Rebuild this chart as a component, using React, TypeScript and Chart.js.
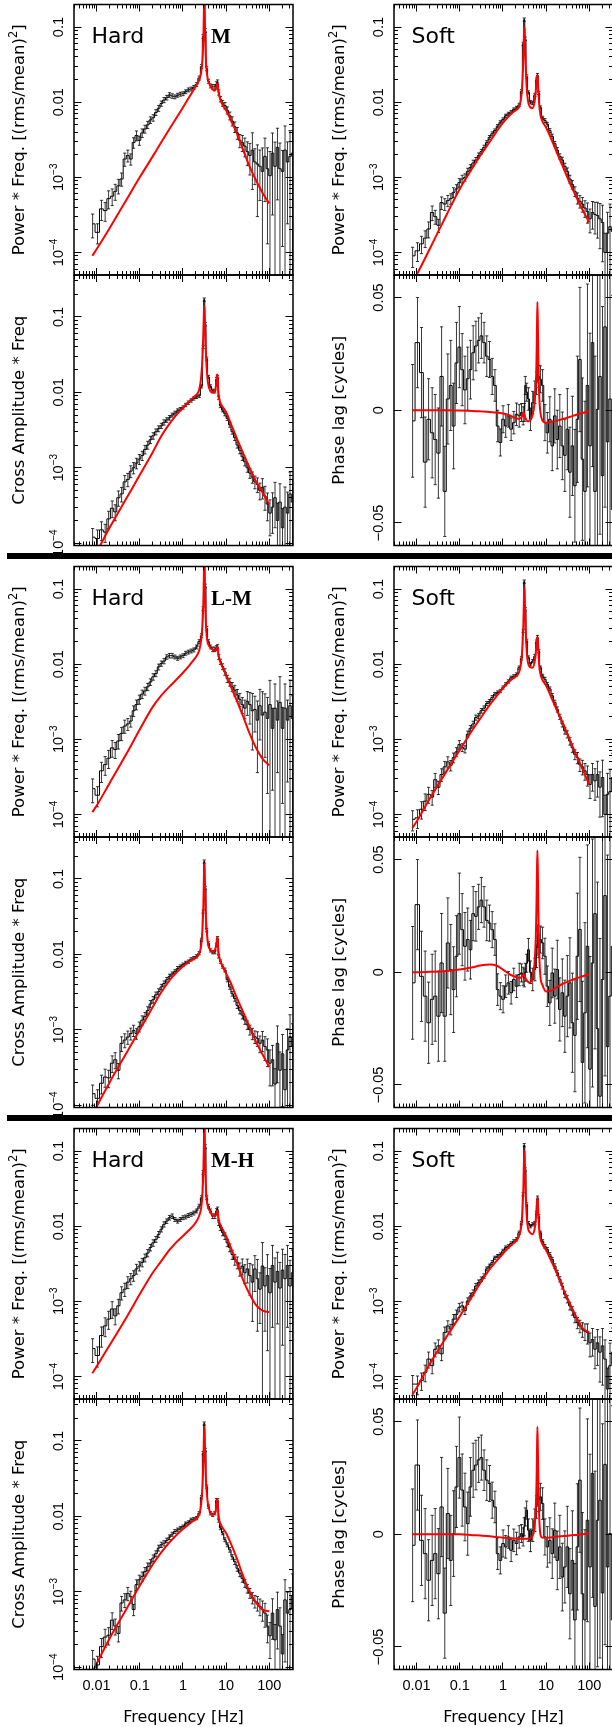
import React, { useEffect, useRef } from 'react';
import { Chart, registerables } from 'chart.js';

Chart.register(...registerables);

// ---------------- data ----------------
const binFreq = [
  0.0081, 0.0105, 0.013, 0.0158, 0.019, 0.023, 0.027, 0.032, 0.038, 0.045,
  0.053, 0.062, 0.072, 0.084, 0.098, 0.114, 0.132, 0.153, 0.177, 0.205,
  0.237, 0.274, 0.317, 0.366, 0.423, 0.489, 0.565, 0.653, 0.755, 0.872,
  1.01, 1.16, 1.34, 1.55, 1.79, 2.07, 2.39, 2.7, 2.95, 3.12,
  3.3, 3.55, 3.9, 4.35, 4.9, 5.5, 6.0, 6.35, 6.75, 7.4,
  8.3, 9.4, 10.7, 12.2, 13.9, 15.9, 18.2, 20.8, 23.8, 27.2,
  31.1, 35.6, 40.7, 46.5, 53.2, 60.8, 69.5, 79.5, 90.9, 104,
  119, 136, 155, 177, 203, 232, 265, 303, 346,
];

const hardG1 = [
  2.4e-4, 1.85e-4, 3.8e-4, 3.6e-4, 5.2e-4, 5.6e-4, 6.5e-4, 7.7e-4, 9.5e-4, 1.75e-3,
  1.95e-3, 1.75e-3, 2.9e-3, 3.6e-3, 3.1e-3, 3.9e-3, 4.4e-3, 5.0e-3, 5.8e-3, 6.2e-3,
  7.3e-3, 8.3e-3, 9.6e-3, 0.0107, 0.0115, 0.0125, 0.0121, 0.0118, 0.0124, 0.0128,
  0.013, 0.0138, 0.0146, 0.015, 0.0158, 0.0172, 0.021, 0.03, 0.075, 0.35,
  0.09, 0.028, 0.019, 0.0165, 0.016, 0.016, 0.0175, 0.0185, 0.0135, 0.011,
  0.0097, 0.009, 0.0078, 0.0066, 0.0056, 0.0047, 0.0039, 0.0031, 0.0029, 0.0026,
  0.0022, 0.00195, 0.0023, 0.0016, 0.0015, 0.0014, 0.0012, 0.0019, 0.0013, 0.00105,
  0.0021, 0.0014, 0.0025, 0.0013, 0.0012, 0.0023, 0.0016, 0.0019, 0.0021,
];
const hardG2 = [
  2.2e-4, 1.8e-4, 3.8e-4, 4.6e-4, 5.6e-4, 7.7e-4, 7.3e-4, 9.5e-4, 1.2e-3, 1.5e-3,
  1.6e-3, 1.75e-3, 2.4e-3, 2.9e-3, 3.4e-3, 4.0e-3, 4.4e-3, 5.0e-3, 5.8e-3, 6.8e-3,
  7.5e-3, 9.2e-3, 0.0102, 0.011, 0.0125, 0.013, 0.013, 0.0125, 0.012, 0.0125,
  0.013, 0.014, 0.0145, 0.015, 0.0155, 0.017, 0.02, 0.024, 0.055, 0.3,
  0.11, 0.03, 0.02, 0.017, 0.0158, 0.0158, 0.0165, 0.017, 0.0125, 0.0108,
  0.0093, 0.0079, 0.0064, 0.0058, 0.005, 0.0045, 0.0039, 0.0034, 0.0029, 0.0026,
  0.0032, 0.0029, 0.0024, 0.0025, 0.0018, 0.0028, 0.0021, 0.0023, 0.0019, 0.0029,
  0.0014, 0.0026, 0.0018, 0.0031, 0.0014, 0.0026, 0.0018, 0.0028, 0.0019,
];
const hardG3 = [
  2.35e-4, 1.9e-4, 3.5e-4, 4.7e-4, 5.8e-4, 7.9e-4, 6.4e-4, 8.7e-4, 1.3e-3, 1.45e-3,
  1.8e-3, 2.0e-3, 2.2e-3, 2.7e-3, 2.95e-3, 3.3e-3, 3.8e-3, 4.4e-3, 5.2e-3, 6.0e-3,
  6.7e-3, 7.8e-3, 9.1e-3, 0.0106, 0.0117, 0.013, 0.0136, 0.0123, 0.0117, 0.0123,
  0.013, 0.0133, 0.0139, 0.0144, 0.015, 0.016, 0.0185, 0.024, 0.052, 0.3,
  0.115, 0.024, 0.0185, 0.016, 0.0136, 0.0136, 0.016, 0.0168, 0.0111, 0.0095,
  0.0082, 0.0074, 0.006, 0.0052, 0.0042, 0.0036, 0.0033, 0.0027, 0.00295, 0.0024,
  0.0027, 0.0022, 0.0018, 0.0027, 0.002, 0.00145, 0.00295, 0.0016, 0.0022, 0.0013,
  0.003, 0.0018, 0.0025, 0.0015, 0.0026, 0.002, 0.003, 0.0016, 0.0024,
];

const softG1 = [
  9e-5, 1.05e-4, 1.3e-4, 1.55e-4, 2.05e-4, 3.4e-4, 3.0e-4, 2.3e-4, 4.6e-4, 4.4e-4,
  4.9e-4, 5.2e-4, 6.3e-4, 7.0e-4, 8.5e-4, 9.5e-4, 1.0e-3, 1.2e-3, 1.35e-3, 1.55e-3,
  1.7e-3, 1.95e-3, 2.2e-3, 2.5e-3, 2.9e-3, 3.4e-3, 3.8e-3, 4.2e-3, 4.8e-3, 5.4e-3,
  5.9e-3, 6.6e-3, 7.0e-3, 7.4e-3, 8.0e-3, 8.4e-3, 9.2e-3, 0.014, 0.06, 0.126,
  0.07, 0.022, 0.0135, 0.01, 0.0098, 0.0125, 0.02, 0.023, 0.0133, 0.0085,
  0.0062, 0.0057, 0.0051, 0.0042, 0.0035, 0.0028, 0.0023, 0.0019, 0.0017, 0.0014,
  0.0012, 9.5e-4, 8e-4, 6.5e-4, 5.3e-4, 4.8e-4, 4.4e-4, 3.9e-4, 3.5e-4, 2.8e-4,
  3.4e-4, 3.2e-4, 3.1e-4, 2.8e-4, 2.5e-4, 1.0e-4, 1.8e-4, 2.2e-4, 1.9e-4,
];
const softG2 = [
  8.6e-5, 9e-5, 1.17e-4, 1.5e-4, 1.85e-4, 1.7e-4, 2.9e-4, 2.3e-4, 3.4e-4, 4.3e-4,
  5.0e-4, 4.5e-4, 5.7e-4, 6.8e-4, 8.5e-4, 7.8e-4, 7.4e-4, 1.17e-3, 1.4e-3, 1.6e-3,
  1.95e-3, 2.05e-3, 2.4e-3, 2.6e-3, 3.0e-3, 3.2e-3, 3.6e-3, 4.0e-3, 4.2e-3, 4.4e-3,
  4.9e-3, 5.4e-3, 5.9e-3, 6.6e-3, 6.9e-3, 7.3e-3, 9.0e-3, 0.012, 0.0278, 0.126,
  0.054, 0.0205, 0.0123, 0.01, 0.011, 0.0128, 0.02, 0.023, 0.015, 0.009,
  0.007, 0.0063, 0.0054, 0.0047, 0.0038, 0.0031, 0.0025, 0.002, 0.0016, 0.0013,
  0.00117, 9.5e-4, 7.7e-4, 6.3e-4, 5.7e-4, 4.6e-4, 4.3e-4, 3.8e-4, 3.4e-4, 2.5e-4,
  3.4e-4, 2.8e-4, 3.4e-4, 2.3e-4, 3.1e-4, 1.0e-4, 1.85e-4, 2.0e-4, 3.1e-4,
];
const softG3 = [
  7.9e-5, 7.9e-5, 8.8e-5, 1.13e-4, 1.7e-4, 1.39e-4, 2.3e-4, 2.55e-4, 2.0e-4, 3.85e-4,
  4.7e-4, 4.25e-4, 5.8e-4, 6.7e-4, 8.3e-4, 8.7e-4, 7.5e-4, 1.01e-3, 1.18e-3, 1.3e-3,
  1.6e-3, 1.78e-3, 1.97e-3, 2.17e-3, 2.7e-3, 2.95e-3, 3.3e-3, 3.8e-3, 4.0e-3, 4.2e-3,
  4.7e-3, 5.2e-3, 5.4e-3, 5.9e-3, 6.3e-3, 6.7e-3, 8.2e-3, 0.011, 0.0266, 0.12,
  0.057, 0.0195, 0.011, 0.01, 0.0106, 0.011, 0.015, 0.024, 0.0136, 0.0082,
  0.0063, 0.0054, 0.0049, 0.0042, 0.0036, 0.00295, 0.0024, 0.00197, 0.0016, 0.00124,
  0.00107, 8.7e-4, 7.5e-4, 6.1e-4, 5.2e-4, 4.7e-4, 4.25e-4, 4.0e-4, 3.85e-4, 2.8e-4,
  3.1e-4, 2.3e-4, 2.8e-4, 2.1e-4, 2.55e-4, 1.7e-4, 6.8e-5, 1.39e-4, 2.1e-4,
];

const crossG1 = [
  1.2e-4, 1.15e-4, 1.5e-4, 1.4e-4, 2.1e-4, 2.9e-4, 2.6e-4, 4.0e-4, 4.5e-4, 6.5e-4,
  7.0e-4, 9e-4, 1.0e-3, 1.15e-3, 1.3e-3, 1.45e-3, 1.75e-3, 2.0e-3, 2.35e-3, 2.65e-3,
  3.0e-3, 3.3e-3, 3.6e-3, 4.0e-3, 4.3e-3, 4.6e-3, 5.0e-3, 5.3e-3, 5.7e-3, 6.0e-3,
  6.3e-3, 6.8e-3, 7.3e-3, 7.8e-3, 8.3e-3, 8.7e-3, 9.0e-3, 0.012, 0.04, 0.17,
  0.08, 0.028, 0.016, 0.012, 0.0105, 0.0103, 0.015, 0.016, 0.0085, 0.0066,
  0.0058, 0.0052, 0.0045, 0.0037, 0.003, 0.0025, 0.002, 0.0017, 0.0014, 0.0012,
  0.001, 8.5e-4, 7.5e-4, 6.5e-4, 6.0e-4, 5.0e-4, 5.5e-4, 4.2e-4, 3.3e-4, 2.5e-4,
  3.0e-4, 4.0e-4, 2.0e-4, 3.5e-4, 1.6e-4, 3.0e-4, 2.5e-4, 4.5e-4, 3.5e-4,
];
const crossG2 = [
  1.42e-4, 1.23e-4, 1.95e-4, 2.36e-4, 2.3e-4, 3.6e-4, 4.0e-4, 2.9e-4, 6.6e-4, 7.3e-4,
  8.0e-4, 8.9e-4, 9.8e-4, 8.9e-4, 1.1e-3, 1.34e-3, 1.5e-3, 1.8e-3, 2.2e-3, 2.5e-3,
  2.9e-3, 3.2e-3, 3.7e-3, 4.1e-3, 4.6e-3, 5.1e-3, 5.5e-3, 5.9e-3, 6.5e-3, 6.9e-3,
  7.3e-3, 7.7e-3, 8.0e-3, 8.6e-3, 8.9e-3, 9.4e-3, 0.0104, 0.0156, 0.037, 0.17,
  0.076, 0.021, 0.014, 0.0113, 0.0107, 0.0107, 0.0134, 0.0164, 0.0094, 0.008,
  0.0069, 0.0062, 0.0046, 0.0037, 0.003, 0.0026, 0.0021, 0.0018, 0.00156, 0.00134,
  0.00116, 0.001, 8.9e-4, 8.1e-4, 7.7e-4, 6.6e-4, 7.3e-4, 6.0e-4, 5.4e-4, 3.6e-4,
  4.0e-4, 1.9e-4, 6.6e-4, 2.9e-4, 4.8e-4, 1.6e-4, 5.4e-4, 8.1e-4, 6.0e-4,
];
const crossG3 = [
  1.28e-4, 1.07e-4, 1.87e-4, 2.5e-4, 2.65e-4, 4.2e-4, 3.5e-4, 2.8e-4, 7.1e-4, 7.8e-4,
  9.5e-4, 8.6e-4, 5.8e-4, 1.24e-3, 1.44e-3, 1.6e-3, 1.85e-3, 2.15e-3, 2.4e-3, 2.8e-3,
  3.2e-3, 3.8e-3, 4.2e-3, 4.4e-3, 4.8e-3, 5.3e-3, 5.8e-3, 6.3e-3, 6.6e-3, 7.0e-3,
  7.3e-3, 8.0e-3, 8.3e-3, 9.0e-3, 9.2e-3, 9.5e-3, 0.011, 0.018, 0.069, 0.17,
  0.076, 0.0248, 0.0135, 0.011, 0.0105, 0.011, 0.0164, 0.0164, 0.0088, 0.007,
  0.006, 0.0049, 0.0042, 0.0036, 0.0029, 0.0025, 0.00205, 0.00176, 0.0015, 0.0013,
  0.0011, 9.6e-4, 8.3e-4, 7.5e-4, 7.1e-4, 6.4e-4, 5.8e-4, 5.2e-4, 3.5e-4, 2.6e-4,
  5.2e-4, 2.3e-4, 5.8e-4, 3.5e-4, 1.5e-4, 7.8e-4, 5.2e-4, 5.8e-4, 8.6e-4,
];

const lagG1 = [
  -0.0047, 0.03, 0.0167, -0.023, -0.004, -0.01, -0.013, -0.019, 0.015, -0.036,
  0.005, 0.011, -0.007, 0.021, 0.028, 0.018, 0.009, 0.014, 0.018, 0.0255,
  0.0285, 0.031, 0.033, 0.03, 0.024, 0.0225, 0.015, 0.011, -0.007, -0.0143,
  -0.004, -0.007, -0.0025, -0.0084, -0.0055, -0.0018, -0.0025, -0.001, -0.0025, -0.001,
  0.011, 0.008, 0.005, -0.004, 0.0034, 0.008, 0.012, 0.018, 0.015, 0.0137,
  0.011, -0.0055, -0.01, -0.004, -0.0158, -0.0025, -0.013, -0.007, -0.0158, -0.02,
  -0.0084, -0.0275, -0.0158, -0.0335, -0.004, 0.0225, -0.0217, -0.036, 0.011, -0.0158,
  0.03, -0.036, 0.0004, 0.015, -0.029, 0.037, -0.014, 0.005, -0.044,
];
const lagG2 = [
  -0.0047, 0.03, -0.0018, -0.0106, -0.0224, -0.012, -0.0106, -0.0195, 0.0041, -0.0195,
  0.013, 0.0012, -0.0077, 0.0071, 0.026, 0.0189, 0.0115, 0.0145, 0.01, 0.026,
  0.0248, 0.029, 0.032, 0.029, 0.023, 0.0218, 0.0189, 0.0145, -0.0077, -0.0106,
  -0.012, -0.0062, -0.0047, -0.0091, -0.0032, -0.0062, -0.001, -0.0003, -0.0018, -0.0025,
  0.0, 0.004, 0.01, 0.0, -0.0032, 0.0012, 0.0071, 0.016, 0.0115, 0.0145,
  0.013, 0.0071, -0.0062, -0.0136, -0.0003, -0.0106, 0.0012, -0.0165, -0.0091, -0.0195,
  -0.0106, -0.0047, -0.0224, -0.028, 0.0071, 0.019, -0.04, -0.018, 0.0115, -0.043,
  0.0041, 0.026, -0.025, -0.055, -0.0032, 0.034, -0.033, -0.0106, 0.0115,
];
const lagG3 = [
  -0.0049, 0.0307, -0.0027, -0.0086, -0.0204, -0.0116, -0.0086, -0.0175, 0.0121, -0.035,
  0.0092, -0.0116, 0.0003, 0.021, 0.034, 0.0196, 0.0121, 0.0047, 0.021, 0.0284,
  0.0307, 0.033, 0.034, 0.0284, 0.024, 0.0225, 0.0151, 0.0121, -0.0086, -0.0116,
  -0.0041, -0.0056, -0.0012, -0.0071, -0.0027, -0.0041, -0.0012, 0.0003, -0.0012, 0.0033,
  0.0077, 0.0107, 0.0018, -0.0027, 0.0018, 0.0062, 0.0121, 0.018, 0.0151, 0.0166,
  0.0136, -0.0012, -0.0056, -0.0027, -0.0086, 0.0018, -0.0116, -0.0056, -0.019, -0.0145,
  -0.0056, -0.0264, -0.0116, -0.038, -0.0056, 0.024, -0.0264, -0.038, 0.0062, -0.0145,
  0.027, -0.032, 0.0062, 0.0151, -0.026, 0.031, -0.0145, 0.0003, -0.038,
];

// relative (log panels) and absolute (phase lag) 1-sigma errors
const hardErr = [
  0.35, 0.3, 0.3, 0.28, 0.27, 0.25, 0.24, 0.22, 0.2, 0.2,
  0.18, 0.17, 0.16, 0.15, 0.14, 0.13, 0.12, 0.11, 0.1, 0.1,
  0.09, 0.09, 0.08, 0.08, 0.07, 0.07, 0.07, 0.06, 0.06, 0.06,
  0.06, 0.06, 0.06, 0.06, 0.06, 0.06, 0.06, 0.06, 0.06, 0.06,
  0.06, 0.06, 0.06, 0.06, 0.07, 0.07, 0.07, 0.07, 0.08, 0.08,
  0.09, 0.1, 0.11, 0.12, 0.14, 0.16, 0.18, 0.2, 0.24, 0.28,
  0.35, 0.45, 0.7, 0.5, 0.8, 0.65, 1.05, 0.75, 0.9, 1.1,
  0.85, 1.1, 0.8, 1.2, 0.9, 1.1, 0.85, 1.2, 1.0,
];
const softErr = [
  0.3, 0.28, 0.26, 0.25, 0.24, 0.22, 0.21, 0.2, 0.19, 0.18,
  0.17, 0.16, 0.15, 0.14, 0.13, 0.12, 0.11, 0.1, 0.09, 0.09,
  0.08, 0.08, 0.07, 0.07, 0.06, 0.06, 0.06, 0.05, 0.05, 0.05,
  0.05, 0.05, 0.05, 0.05, 0.05, 0.05, 0.05, 0.05, 0.05, 0.05,
  0.05, 0.05, 0.05, 0.05, 0.05, 0.05, 0.05, 0.05, 0.05, 0.05,
  0.05, 0.06, 0.06, 0.06, 0.07, 0.07, 0.08, 0.08, 0.09, 0.1,
  0.11, 0.12, 0.13, 0.15, 0.17, 0.19, 0.22, 0.25, 0.3, 0.35,
  0.4, 0.45, 0.5, 0.6, 0.7, 0.8, 0.9, 1.0, 1.1,
];
const crossErr = [
  0.3, 0.3, 0.28, 0.27, 0.26, 0.25, 0.24, 0.23, 0.22, 0.21,
  0.2, 0.18, 0.17, 0.16, 0.15, 0.14, 0.13, 0.12, 0.11, 0.1,
  0.09, 0.09, 0.08, 0.08, 0.07, 0.07, 0.06, 0.06, 0.06, 0.05,
  0.05, 0.05, 0.05, 0.05, 0.05, 0.05, 0.05, 0.05, 0.05, 0.05,
  0.05, 0.05, 0.05, 0.05, 0.05, 0.05, 0.05, 0.05, 0.05, 0.05,
  0.05, 0.06, 0.06, 0.07, 0.07, 0.08, 0.09, 0.1, 0.11, 0.12,
  0.13, 0.15, 0.17, 0.19, 0.22, 0.25, 0.3, 0.35, 0.4, 0.5,
  0.55, 0.6, 0.7, 0.75, 0.8, 0.85, 0.9, 0.95, 1.0,
];
const lagErr = [
  0.025, 0.02, 0.02, 0.02, 0.018, 0.02, 0.02, 0.02, 0.022, 0.02,
  0.02, 0.02, 0.019, 0.018, 0.018, 0.016, 0.015, 0.014, 0.013, 0.012,
  0.011, 0.01, 0.01, 0.009, 0.009, 0.008, 0.008, 0.007, 0.007, 0.006,
  0.006, 0.005, 0.005, 0.005, 0.005, 0.005, 0.005, 0.004, 0.004, 0.004,
  0.004, 0.004, 0.005, 0.005, 0.005, 0.005, 0.005, 0.005, 0.005, 0.006,
  0.007, 0.008, 0.009, 0.01, 0.011, 0.012, 0.013, 0.014, 0.015, 0.016,
  0.018, 0.02, 0.022, 0.025, 0.028, 0.032, 0.036, 0.04, 0.045, 0.05,
  0.055, 0.06, 0.065, 0.07, 0.075, 0.08, 0.085, 0.09, 0.095,
];

// model curves (red)
const modelFreq = [
  0.008, 0.01, 0.02, 0.05, 0.1, 0.2, 0.3, 0.5, 0.7, 1,
  1.4, 1.8, 2.1, 2.4, 2.65, 2.85, 2.98, 3.06, 3.12, 3.18,
  3.26, 3.38, 3.55, 3.8, 4.2, 4.8, 5.4, 5.8, 6.0, 6.15,
  6.3, 6.45, 6.65, 6.95, 7.4, 8.2, 10, 13, 18, 25,
  35, 50, 70, 100,
];
const hardModelG1 = [
  9e-5, 1.1e-4, 2.1e-4, 5.1e-4, 1.0e-3, 1.9e-3, 2.8e-3, 4.5e-3, 6.1e-3, 8.5e-3,
  0.0117, 0.0148, 0.017, 0.02, 0.025, 0.038, 0.07, 0.15, 0.3, 0.2,
  0.09, 0.042, 0.026, 0.02, 0.0172, 0.015, 0.0142, 0.015, 0.0162, 0.0175,
  0.0178, 0.0165, 0.014, 0.0122, 0.0108, 0.0093, 0.0078, 0.0057, 0.0038, 0.0023,
  0.0014, 9e-4, 6.2e-4, 4.5e-4,
];
const hardModelG2 = [
  1.07e-4, 1.3e-4, 2.6e-4, 6.5e-4, 1.35e-3, 2.7e-3, 3.7e-3, 5.1e-3, 6.2e-3, 7.7e-3,
  9.6e-3, 0.0115, 0.013, 0.0155, 0.021, 0.035, 0.07, 0.15, 0.3, 0.2,
  0.09, 0.04, 0.024, 0.019, 0.017, 0.0158, 0.0152, 0.0155, 0.0162, 0.017,
  0.0172, 0.016, 0.0138, 0.012, 0.0106, 0.0092, 0.0072, 0.005, 0.0032, 0.002,
  1.2e-3, 7.6e-4, 5.5e-4, 4.5e-4,
];
const hardModelG3 = [
  1.1e-4, 1.35e-4, 2.6e-4, 6.2e-4, 1.24e-3, 2.4e-3, 3.3e-3, 4.9e-3, 6.1e-3, 7.4e-3,
  8.9e-3, 0.0104, 0.0118, 0.014, 0.0175, 0.028, 0.055, 0.12, 0.3, 0.2,
  0.085, 0.038, 0.023, 0.018, 0.016, 0.014, 0.0136, 0.014, 0.0148, 0.0157,
  0.016, 0.015, 0.013, 0.0115, 0.0104, 0.0092, 0.0074, 0.0051, 0.0032, 0.0019,
  1.25e-3, 8.8e-4, 7.5e-4, 7.2e-4,
];
const softModelG1 = [
  4e-5, 5e-5, 1.1e-4, 3.2e-4, 7.0e-4, 1.35e-3, 1.95e-3, 3.0e-3, 4.0e-3, 5.3e-3,
  6.6e-3, 7.5e-3, 8.0e-3, 8.8e-3, 0.0115, 0.02, 0.04, 0.075, 0.1, 0.095,
  0.06, 0.03, 0.016, 0.0105, 0.0087, 0.0083, 0.01, 0.0145, 0.019, 0.0225,
  0.023, 0.019, 0.0135, 0.0092, 0.0068, 0.0056, 0.0046, 0.0033, 0.0021, 0.00135,
  8.5e-4, 5.5e-4, 3.7e-4, 2.5e-4,
];
const softModelG2 = [
  6.6e-5, 8e-5, 1.6e-4, 3.8e-4, 7.2e-4, 1.35e-3, 1.9e-3, 2.9e-3, 3.7e-3, 4.8e-3,
  5.9e-3, 6.6e-3, 7.0e-3, 8.0e-3, 0.0105, 0.018, 0.035, 0.07, 0.105, 0.09,
  0.055, 0.028, 0.015, 0.0105, 0.0092, 0.009, 0.0105, 0.0145, 0.018, 0.022,
  0.023, 0.02, 0.015, 0.0095, 0.0074, 0.0062, 0.0052, 0.0037, 0.0024, 0.0016,
  1e-3, 6.2e-4, 4e-4, 2.5e-4,
];
const softModelG3 = [
  5.7e-5, 7e-5, 1.45e-4, 3.4e-4, 6.3e-4, 1.2e-3, 1.75e-3, 2.7e-3, 3.4e-3, 4.3e-3,
  5.3e-3, 6.0e-3, 6.5e-3, 7.6e-3, 9.8e-3, 0.017, 0.033, 0.068, 0.1, 0.092,
  0.055, 0.027, 0.014, 0.0095, 0.0083, 0.0078, 0.009, 0.0125, 0.017, 0.0215,
  0.0235, 0.02, 0.014, 0.0088, 0.0068, 0.0058, 0.0048, 0.0035, 0.0023, 0.00145,
  9.5e-4, 6.2e-4, 4.4e-4, 3.85e-4,
];
const crossModelG1 = [
  5.8e-5, 7.5e-5, 1.6e-4, 4.0e-4, 8.0e-4, 1.6e-3, 2.5e-3, 3.9e-3, 5.0e-3, 6.2e-3,
  7.6e-3, 8.7e-3, 9.4e-3, 0.011, 0.016, 0.03, 0.065, 0.11, 0.14, 0.12,
  0.075, 0.038, 0.021, 0.0135, 0.0108, 0.0099, 0.0102, 0.012, 0.0145, 0.0172,
  0.0165, 0.013, 0.01, 0.0082, 0.0072, 0.0065, 0.0055, 0.0038, 0.0024, 0.00155,
  1e-3, 6.5e-4, 4.7e-4, 3.3e-4,
];
const crossModelG2 = [
  7.5e-5, 9.5e-5, 2.0e-4, 5.0e-4, 1.0e-3, 2.0e-3, 3.0e-3, 4.6e-3, 5.7e-3, 6.9e-3,
  8.0e-3, 8.7e-3, 9.2e-3, 0.0104, 0.013, 0.022, 0.045, 0.1, 0.16, 0.13,
  0.08, 0.037, 0.021, 0.014, 0.0117, 0.0109, 0.0112, 0.0125, 0.014, 0.0162,
  0.017, 0.0145, 0.0112, 0.0092, 0.0082, 0.007, 0.0056, 0.0041, 0.0026, 0.0017,
  1.1e-3, 6.8e-4, 4.7e-4, 3.2e-4,
];
const crossModelG3 = [
  8.5e-5, 1.1e-4, 2.4e-4, 6.0e-4, 1.2e-3, 2.3e-3, 3.2e-3, 4.6e-3, 5.6e-3, 6.8e-3,
  7.9e-3, 8.8e-3, 9.3e-3, 0.0108, 0.0145, 0.026, 0.055, 0.11, 0.155, 0.13,
  0.075, 0.036, 0.021, 0.0148, 0.0116, 0.0106, 0.0108, 0.0122, 0.0142, 0.0168,
  0.017, 0.0145, 0.011, 0.0089, 0.008, 0.0071, 0.006, 0.0043, 0.0027, 0.0016,
  1e-3, 7.1e-4, 5.8e-4, 5.5e-4,
];
const lagModelG1 = [
  0, 0, 0, 0, -0.0001, -0.0003, -0.0005, -0.0008, -0.001, -0.0014,
  -0.0022, -0.0032, -0.0037, -0.0038, -0.0033, -0.0022, -0.0012, -0.001, -0.0012, -0.0018,
  -0.0028, -0.0038, -0.0046, -0.0049, -0.0045, -0.0025, 0.003, 0.012, 0.022, 0.036,
  0.048, 0.038, 0.02, 0.006, -0.001, -0.0045, -0.0055, -0.0052, -0.0046, -0.0038,
  -0.003, -0.002, -0.0012, -0.0004,
];
const lagModelG2 = [
  0, 0, 0.0002, 0.0006, 0.0012, 0.0022, 0.003, 0.0034, 0.003, 0.0012,
  -0.0008, -0.0018, -0.0023, -0.0025, -0.0022, -0.0015, -0.001, -0.0009, -0.001, -0.0014,
  -0.002, -0.0028, -0.0035, -0.0042, -0.0047, -0.0025, 0.004, 0.016, 0.03, 0.045,
  0.054, 0.045, 0.025, 0.008, -0.002, -0.0055, -0.0085, -0.0082, -0.0065, -0.005,
  -0.0038, -0.0028, -0.0018, -0.001,
];
const lagModelG3 = [
  0, 0, 0, 0, 0, -0.0004, -0.0006, -0.0009, -0.0012, -0.0015,
  -0.0017, -0.0019, -0.002, -0.002, -0.002, -0.002, -0.002, -0.002, -0.002, -0.002,
  -0.002, -0.002, -0.002, -0.002, -0.0018, -0.0008, 0.003, 0.013, 0.022, 0.036,
  0.0477, 0.038, 0.022, 0.007, 0, -0.0015, -0.0016, -0.0014, -0.001, -0.0008,
  -0.0006, -0.0003, 0, 0.0003,
];

// axis ticks / labels
const xTickValues = [0.01, 0.1, 1, 10, 100];
const xTickLabels = ['0.01', '0.1', '1', '10', '100'];
const logTickValues = [0.1, 0.01, 0.001, 0.0001];
const logTickLabels = ['0.1', '0.01', '10^\u22123', '10^\u22124'];
const lagTickValues = [0.05, 0, -0.05];
const lagTickLabels = ['0.05', '0', '\u22120.05'];
const groupTags = ['M', 'L-M', 'M-H'];
const xAxisTitle = 'Frequency [Hz]';

// ---------------- layout / style ----------------
const X_MIN = 0.003;
const X_MAX = 355;
const FRAME_W = 219;
const ROW_H = 270.5;
const GROUP_TOPS = [4.5, 566.5, 1128.5];
const COL_FRAME_X = [74, 394];
const COL_CANVAS_X = [0, 306];
const COL_CANVAS_W = [306, 320];
const NUM_FONT = '"Liberation Sans", Arial, sans-serif';
const TXT_FONT = '"DejaVu Sans", sans-serif';

type Part = { t: string; sup?: boolean };
const PSD_TITLE: Part[] = [{ t: 'Power * Freq. [(rms/mean)' }, { t: '2', sup: true }, { t: ']' }];

const KINDS: Record<string, any> = {
  hard: { log: true, yMin: 5e-5, yMax: 0.2, title: PSD_TITLE, label: 'Hard' },
  soft: { log: true, yMin: 5e-5, yMax: 0.2, title: PSD_TITLE, label: 'Soft' },
  cross: { log: true, yMin: 9.3e-5, yMax: 0.36, title: [{ t: 'Cross Amplitude * Freq' }] },
  lag: { log: false, yMin: -0.06, yMax: 0.06, title: [{ t: 'Phase lag [cycles]' }] },
};

const groupData = [
  { hard: [hardG1, hardModelG1], soft: [softG1, softModelG1], cross: [crossG1, crossModelG1], lag: [lagG1, lagModelG1] },
  { hard: [hardG2, hardModelG2], soft: [softG2, softModelG2], cross: [crossG2, crossModelG2], lag: [lagG2, lagModelG2] },
  { hard: [hardG3, hardModelG3], soft: [softG3, softModelG3], cross: [crossG3, crossModelG3], lag: [lagG3, lagModelG3] },
];
const errByKind: Record<string, number[]> = { hard: hardErr, soft: softErr, cross: crossErr, lag: lagErr };

function parseLabel(s: string): Part[] {
  const i = s.indexOf('^');
  if (i < 0) return [{ t: s }];
  return [{ t: s.slice(0, i) }, { t: s.slice(i + 1), sup: true }];
}

function drawParts(ctx: CanvasRenderingContext2D, parts: Part[], x: number, y: number, rotate: boolean,
  size: number, supSize: number, family: string) {
  ctx.save();
  ctx.translate(x, y);
  if (rotate) ctx.rotate(-Math.PI / 2);
  ctx.textAlign = 'left';
  ctx.textBaseline = 'alphabetic';
  const widths = parts.map((p) => {
    ctx.font = `${p.sup ? supSize : size}px ${family}`;
    return ctx.measureText(p.t).width;
  });
  const total = widths.reduce((a, b) => a + b, 0);
  let cx = -total / 2;
  parts.forEach((p, i) => {
    ctx.font = `${p.sup ? supSize : size}px ${family}`;
    ctx.fillText(p.t, cx, p.sup ? -size * 0.42 : 0);
    cx += widths[i];
  });
  ctx.restore();
}

const snap = (v: number) => Math.round(v - 0.5) + 0.5;

function makePlugin(spec: any) {
  return {
    id: 'pgFrame',
    afterDraw(chart: any) {
      const { ctx, chartArea: a } = chart;
      const xs = chart.scales.x;
      const ys = chart.scales.y;
      const kind = KINDS[spec.kind];
      ctx.save();
      ctx.strokeStyle = '#000';
      ctx.fillStyle = '#000';
      ctx.lineWidth = 1;
      ctx.beginPath();
      for (let e = -3; e <= 2; e++) {
        for (let m = 1; m <= 9; m++) {
          const v = m * Math.pow(10, e);
          if (v < X_MIN * 0.999 || v > X_MAX) continue;
          const px = snap(xs.getPixelForValue(v));
          const len = m === 1 ? 7 : 4;
          ctx.moveTo(px, a.bottom); ctx.lineTo(px, a.bottom - len);
          ctx.moveTo(px, a.top); ctx.lineTo(px, a.top + len);
        }
      }
      if (kind.log) {
        for (let e = -5; e <= 0; e++) {
          for (let m = 1; m <= 9; m++) {
            const v = m * Math.pow(10, e);
            if (v < kind.yMin * 0.999 || v > kind.yMax * 1.001) continue;
            const py = snap(ys.getPixelForValue(v));
            const len = m === 1 ? 7.5 : 4;
            ctx.moveTo(a.left, py); ctx.lineTo(a.left + len, py);
            ctx.moveTo(a.right, py); ctx.lineTo(a.right - len, py);
          }
        }
      } else {
        lagTickValues.forEach((v) => {
          const py = snap(ys.getPixelForValue(v));
          ctx.moveTo(a.left, py); ctx.lineTo(a.left + 7.5, py);
          ctx.moveTo(a.right, py); ctx.lineTo(a.right - 7.5, py);
        });
      }
      ctx.stroke();
      ctx.lineWidth = 1.5;
      ctx.strokeRect(a.left, a.top, a.right - a.left, a.bottom - a.top);

      // y tick labels
      const tv = kind.log ? logTickValues : lagTickValues;
      const tl = kind.log ? logTickLabels : lagTickLabels;
      tv.forEach((v: number, i: number) => {
        const py = ys.getPixelForValue(v);
        drawParts(ctx, parseLabel(tl[i]), a.left - 11, py, true, 14.5, 10, NUM_FONT);
      });
      // y title
      drawParts(ctx, kind.title, a.left - 50, (a.top + a.bottom) / 2, true, 16.5, 11.5, TXT_FONT);
      // panel labels
      if (kind.label) {
        ctx.font = `22px ${TXT_FONT}`;
        ctx.textAlign = 'left';
        ctx.textBaseline = 'alphabetic';
        ctx.fillText(kind.label, a.left + 17.5, a.top + 38.3);
      }
      if (spec.tag) {
        ctx.font = `bold 21px "Liberation Serif", "Times New Roman", serif`;
        ctx.textAlign = 'left';
        ctx.fillText(spec.tag, a.left + 137, a.top + 38.8);
      }
      if (spec.showX) {
        ctx.font = `14.5px ${NUM_FONT}`;
        ctx.textAlign = 'center';
        ctx.textBaseline = 'alphabetic';
        xTickValues.forEach((v, i) => {
          ctx.fillText(xTickLabels[i], xs.getPixelForValue(v), a.bottom + 20.5);
        });
        ctx.font = `16px ${TXT_FONT}`;
        ctx.fillText(xAxisTitle, (a.left + a.right) / 2, a.bottom + 52);
      }
      ctx.restore();
    },
  };
}

function buildConfig(spec: any) {
  const kind = KINDS[spec.kind];
  const vals: number[] = spec.values;
  const errs: number[] = spec.errs;
  const capF = Math.pow(10, 1.6 / 43.17);
  const bars: any[] = [];
  const caps: any[] = [];
  binFreq.forEach((f, i) => {
    const v = vals[i];
    let lo: number, hi: number;
    if (kind.log) {
      lo = v * (1 - errs[i]);
      hi = v * (1 + errs[i]);
      if (lo <= 0) lo = 1e-9;
    } else {
      lo = v - errs[i];
      hi = v + errs[i];
    }
    bars.push({ x: f, y: lo }, { x: f, y: hi }, { x: f, y: null });
    caps.push({ x: f / capF, y: lo }, { x: f * capF, y: lo }, { x: f, y: null });
    caps.push({ x: f / capF, y: hi }, { x: f * capF, y: hi }, { x: f, y: null });
  });
  const hist = binFreq.map((f, i) => ({ x: f, y: vals[i] }));
  const model = modelFreq.map((f, i) => ({ x: f, y: spec.model[i] }));
  const yScale = kind.log
    ? { type: 'logarithmic', min: kind.yMin, max: kind.yMax, display: false }
    : { type: 'linear', min: kind.yMin, max: kind.yMax, display: false };
  return {
    type: 'line',
    data: {
      datasets: [
        { data: model, borderColor: '#ff0000', borderWidth: 2, pointRadius: 0, cubicInterpolationMode: 'monotone', fill: false },
        { data: hist, borderColor: '#000', borderWidth: 1, pointRadius: 0, stepped: 'middle', fill: false },
        { data: bars, borderColor: 'rgba(0,0,0,0.78)', borderWidth: 1, pointRadius: 0, spanGaps: false, fill: false },
        { data: caps, borderColor: 'rgba(0,0,0,0.78)', borderWidth: 1, pointRadius: 0, spanGaps: false, fill: false },
      ],
    },
    options: {
      animation: false,
      responsive: false,
      maintainAspectRatio: false,
      events: [],
      layout: { padding: spec.padding },
      plugins: { legend: { display: false }, tooltip: { enabled: false } },
      scales: {
        x: { type: 'logarithmic', min: X_MIN, max: X_MAX, display: false },
        y: yScale,
      },
    },
    plugins: [makePlugin(spec)],
  };
}

function Panel({ spec }: { spec: any }) {
  const ref = useRef<HTMLCanvasElement>(null);
  useEffect(() => {
    const chart = new Chart(ref.current as HTMLCanvasElement, buildConfig(spec) as any);
    return () => chart.destroy();
  }, []);
  return (
    <canvas
      ref={ref}
      width={spec.cw}
      height={spec.ch}
      style={{ position: 'absolute', left: spec.cx, top: spec.cy, width: spec.cw, height: spec.ch }}
    />
  );
}

function buildSpecs() {
  const specs: any[] = [];
  const layout = [
    { kind: 'hard', col: 0, row: 0 },
    { kind: 'soft', col: 1, row: 0 },
    { kind: 'cross', col: 0, row: 1 },
    { kind: 'lag', col: 1, row: 1 },
  ];
  GROUP_TOPS.forEach((gt, g) => {
    layout.forEach((p) => {
      const frameTop = gt + p.row * ROW_H;
      const frameLeft = COL_FRAME_X[p.col];
      const cx = COL_CANVAS_X[p.col];
      const cw = COL_CANVAS_W[p.col];
      const cy = Math.floor(frameTop) - 20;
      const showX = g === 2 && p.row === 1;
      const ch = showX ? 1727 - cy : Math.ceil(frameTop + ROW_H) + 20 - cy;
      const [values, model] = (groupData[g] as any)[p.kind];
      specs.push({
        key: `${g}-${p.kind}`,
        kind: p.kind,
        values,
        model,
        errs: errByKind[p.kind],
        tag: p.kind === 'hard' ? groupTags[g] : null,
        showX,
        cx, cy, cw, ch,
        padding: {
          left: frameLeft - cx,
          right: cx + cw - (frameLeft + FRAME_W),
          top: frameTop - cy,
          bottom: cy + ch - (frameTop + ROW_H),
        },
      });
    });
  });
  return specs;
}

export default function App() {
  const specs = buildSpecs();
  return (
    <div style={{ position: 'absolute', left: 0, top: 0, width: 612, height: 1727, overflow: 'hidden', background: '#fff' }}>
      {specs.map((s) => <Panel key={s.key} spec={s} />)}
      <div style={{ position: 'absolute', left: 7, top: 552.7, width: 620, height: 6.4, background: '#000' }} />
      <div style={{ position: 'absolute', left: 7, top: 1114.7, width: 620, height: 6.4, background: '#000' }} />
    </div>
  );
}
